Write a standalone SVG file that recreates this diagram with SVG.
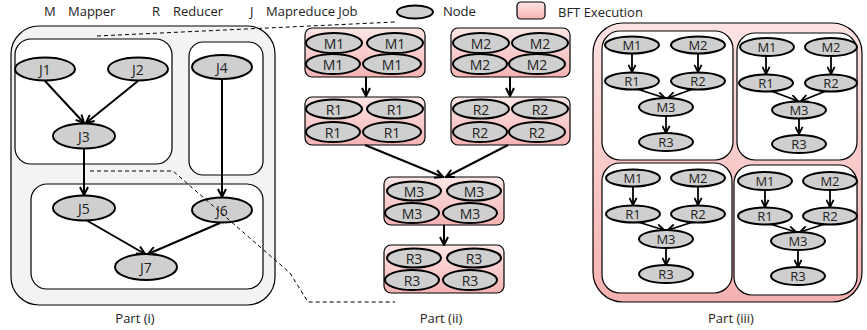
<svg xmlns="http://www.w3.org/2000/svg" width="867" height="330" viewBox="0 0 867 330">
<defs>
<linearGradient id="pink" x1="0" y1="0" x2="0" y2="1">
<stop offset="0" stop-color="#fde6e6"/>
<stop offset="1" stop-color="#f5b3b3"/>
</linearGradient>
<linearGradient id="pinkBig" x1="0" y1="0" x2="0" y2="1">
<stop offset="0" stop-color="#fde3e3"/>
<stop offset="1" stop-color="#f5b1b1"/>
</linearGradient>
<marker id="arr" viewBox="0 0 10 10" refX="9" refY="5" markerWidth="10" markerHeight="10" markerUnits="userSpaceOnUse" orient="auto">
<path d="M1,1 L9,5 L1,9" fill="none" stroke="#000" stroke-width="2"/>
</marker>
<marker id="arrs" viewBox="0 0 10 10" refX="9" refY="5" markerWidth="9" markerHeight="9" markerUnits="userSpaceOnUse" orient="auto">
<path d="M1,1 L9,5 L1,9" fill="none" stroke="#000" stroke-width="2"/>
</marker>
</defs>
<style>
text{font-family:"Open Sans","Liberation Sans",sans-serif;font-size:13px;fill:#222}
.lbl{text-anchor:middle;dominant-baseline:central}
.big{font-size:14px}
.node ellipse{fill:#cfcfcf;stroke:#000;stroke-width:2}
.box{fill:#fff;stroke:#000;stroke-width:1.2}
.bft{fill:url(#pink);stroke:#000;stroke-width:1.2}
.e{stroke:#000;stroke-width:2;fill:none;marker-end:url(#arr)}
.es{stroke:#000;stroke-width:1.8;fill:none;marker-end:url(#arrs)}
.dash{stroke:#000;stroke-width:1;fill:none;stroke-dasharray:4,3}
</style>

<g id="legend">
<text x="44" y="16">M</text><text x="68" y="16">Mapper</text>
<text x="152" y="16">R</text><text x="173" y="16">Reducer</text>
<text x="250" y="16">J</text><text x="266" y="16">Mapreduce Job</text>
<ellipse cx="415" cy="12" rx="18" ry="6.5" fill="#cfcfcf" stroke="#000" stroke-width="2"/>
<text x="443" y="16">Node</text>
<rect x="517" y="2" width="28" height="17" rx="4" class="bft"/>
<text x="558" y="17">BFT Execution</text>
</g>

<g id="part1">
<rect x="11" y="26" width="264" height="279" rx="28" fill="#f3f3f3" stroke="#000" stroke-width="1.2"/>
<rect x="15" y="39" width="157" height="125" rx="16" class="box"/>
<rect x="189" y="42" width="74" height="133" rx="14" class="box"/>
<rect x="31" y="184" width="232" height="105" rx="16" class="box"/>
<text x="135" y="318" class="lbl">Part (i)</text>
</g>

<g id="part2">
<g id="m1grp" class="node">
<rect x="305" y="28" width="120" height="49" rx="7" class="bft"/>
<ellipse cx="334" cy="43" rx="28" ry="10"/><text x="334" y="43" class="lbl big">M1</text>
<ellipse cx="395" cy="43" rx="28" ry="10"/><text x="395" y="43" class="lbl big">M1</text>
<ellipse cx="333" cy="64" rx="27" ry="10"/><text x="333" y="64" class="lbl big">M1</text>
<ellipse cx="392" cy="64" rx="29" ry="10"/><text x="392" y="64" class="lbl big">M1</text>
</g>
<g id="m2grp" class="node">
<rect x="451" y="28" width="119" height="49" rx="7" class="bft"/>
<ellipse cx="481" cy="43" rx="28" ry="10"/><text x="481" y="43" class="lbl big">M2</text>
<ellipse cx="540" cy="43" rx="28" ry="10"/><text x="540" y="43" class="lbl big">M2</text>
<ellipse cx="480" cy="64" rx="27" ry="10"/><text x="480" y="64" class="lbl big">M2</text>
<ellipse cx="537" cy="64" rx="28" ry="10"/><text x="537" y="64" class="lbl big">M2</text>
</g>
<g id="r1grp" class="node">
<rect x="305" y="97" width="120" height="48" rx="7" class="bft"/>
<ellipse cx="334" cy="109" rx="28" ry="9.5"/><text x="334" y="109" class="lbl big">R1</text>
<ellipse cx="395" cy="109" rx="28" ry="9.5"/><text x="395" y="109" class="lbl big">R1</text>
<ellipse cx="333" cy="132" rx="27" ry="10"/><text x="333" y="132" class="lbl big">R1</text>
<ellipse cx="392" cy="132" rx="29" ry="10"/><text x="392" y="132" class="lbl big">R1</text>
</g>
<g id="r2grp" class="node">
<rect x="451" y="97" width="119" height="48" rx="7" class="bft"/>
<ellipse cx="481" cy="109" rx="28" ry="9.5"/><text x="481" y="109" class="lbl big">R2</text>
<ellipse cx="540" cy="109" rx="28" ry="9.5"/><text x="540" y="109" class="lbl big">R2</text>
<ellipse cx="480" cy="132" rx="27" ry="10"/><text x="480" y="132" class="lbl big">R2</text>
<ellipse cx="537" cy="132" rx="28" ry="10"/><text x="537" y="132" class="lbl big">R2</text>
</g>
<g id="m3grp" class="node">
<rect x="384" y="177" width="120" height="48" rx="7" class="bft"/>
<ellipse cx="414" cy="191" rx="27" ry="9.5"/><text x="414" y="191" class="lbl big">M3</text>
<ellipse cx="474" cy="191" rx="27" ry="9.5"/><text x="474" y="191" class="lbl big">M3</text>
<ellipse cx="412" cy="213" rx="27" ry="10"/><text x="412" y="213" class="lbl big">M3</text>
<ellipse cx="470" cy="213" rx="27" ry="10"/><text x="470" y="213" class="lbl big">M3</text>
</g>
<g id="r3grp" class="node">
<rect x="384" y="245" width="120" height="48" rx="7" class="bft"/>
<ellipse cx="414" cy="258" rx="27" ry="9.5"/><text x="414" y="258" class="lbl big">R3</text>
<ellipse cx="474" cy="258" rx="27" ry="9.5"/><text x="474" y="258" class="lbl big">R3</text>
<ellipse cx="412" cy="280" rx="27" ry="10"/><text x="412" y="280" class="lbl big">R3</text>
<ellipse cx="470" cy="280" rx="27" ry="10"/><text x="470" y="280" class="lbl big">R3</text>
</g>
<text x="441" y="318" class="lbl">Part (ii)</text>
</g>

<g id="part1nodes">
<g id="J1" class="node"><ellipse cx="45" cy="69" rx="30" ry="11.5"/><text x="45" y="69" class="lbl big">J1</text></g>
<g id="J2" class="node"><ellipse cx="138" cy="69" rx="30" ry="11.5"/><text x="138" y="69" class="lbl big">J2</text></g>
<g id="J3" class="node"><ellipse cx="84" cy="136" rx="31" ry="12.5"/><text x="84" y="136" class="lbl big">J3</text></g>
<g id="J4" class="node"><ellipse cx="222" cy="67" rx="30" ry="12"/><text x="222" y="67" class="lbl big">J4</text></g>
<g id="J5" class="node"><ellipse cx="84" cy="208" rx="31" ry="12.5"/><text x="84" y="208" class="lbl big">J5</text></g>
<g id="J6" class="node"><ellipse cx="222" cy="210" rx="30" ry="12.5"/><text x="222" y="210" class="lbl big">J6</text></g>
<g id="J7" class="node"><ellipse cx="146" cy="267" rx="31" ry="13"/><text x="146" y="267" class="lbl big">J7</text></g>
</g>

<g id="connectors">
<line x1="45" y1="81" x2="84" y2="123" class="e"/>
<line x1="138" y1="81" x2="86" y2="123" class="e"/>
<line x1="84" y1="148" x2="84" y2="195" class="e"/>
<line x1="222" y1="79" x2="222" y2="197" class="e"/>
<line x1="86" y1="220" x2="145" y2="254" class="e"/>
<line x1="220" y1="223" x2="148" y2="254" class="e"/>
<line x1="366" y1="77" x2="366" y2="96" class="e"/>
<line x1="510" y1="77" x2="510" y2="96" class="e"/>
<line x1="365" y1="145" x2="443" y2="177" class="e"/>
<line x1="508" y1="145" x2="446" y2="177" class="e"/>
<line x1="444" y1="225" x2="444" y2="245" class="e"/>
<path d="M97,36 L395,22" class="dash"/>
<path d="M90,171 L173,171 L290,273 L308,302 L395,302" class="dash"/>
</g>

<g id="part3">
<rect x="593" y="23" width="269" height="279" rx="30" fill="url(#pinkBig)" stroke="#000" stroke-width="1.2"/>
<text x="731" y="318" class="lbl">Part (iii)</text>

<g id="p3tl">
<rect x="602" y="31" width="131" height="129" rx="18" class="box"/>
<line x1="632" y1="53" x2="632" y2="72" class="es"/>
<line x1="698" y1="53" x2="698" y2="72" class="es"/>
<line x1="637" y1="89" x2="665" y2="98" class="es"/>
<line x1="693" y1="89" x2="668" y2="98" class="es"/>
<line x1="666" y1="117" x2="666" y2="133" class="es"/>
<g class="node">
<ellipse cx="632" cy="45" rx="27" ry="8.5"/><text x="632" y="45" class="lbl">M1</text>
<ellipse cx="698" cy="45" rx="27" ry="8.5"/><text x="698" y="45" class="lbl">M2</text>
<ellipse cx="632" cy="81" rx="27" ry="8.5"/><text x="632" y="81" class="lbl">R1</text>
<ellipse cx="698" cy="81" rx="27" ry="8.5"/><text x="698" y="81" class="lbl">R2</text>
<ellipse cx="666" cy="107" rx="27" ry="9"/><text x="666" y="107" class="lbl">M3</text>
<ellipse cx="666" cy="142" rx="27" ry="9"/><text x="666" y="142" class="lbl">R3</text>
</g>
</g>

<g id="p3tr">
<rect x="737" y="33" width="120" height="127" rx="18" class="box"/>
<line x1="766" y1="56" x2="766" y2="74" class="es"/>
<line x1="831" y1="56" x2="831" y2="74" class="es"/>
<line x1="771" y1="91" x2="798" y2="101" class="es"/>
<line x1="826" y1="91" x2="801" y2="101" class="es"/>
<line x1="799" y1="119" x2="799" y2="134" class="es"/>
<g class="node">
<ellipse cx="767" cy="47" rx="27" ry="9"/><text x="767" y="47" class="lbl">M1</text>
<ellipse cx="831" cy="47" rx="26" ry="9"/><text x="831" y="47" class="lbl">M2</text>
<ellipse cx="766" cy="83" rx="27" ry="8.5"/><text x="766" y="83" class="lbl">R1</text>
<ellipse cx="831" cy="83" rx="26" ry="8.5"/><text x="831" y="83" class="lbl">R2</text>
<ellipse cx="799" cy="110" rx="27" ry="8.5"/><text x="799" y="110" class="lbl">M3</text>
<ellipse cx="799" cy="144" rx="27" ry="9"/><text x="799" y="144" class="lbl">R3</text>
</g>
</g>

<g id="p3bl">
<rect x="602" y="163" width="130" height="130" rx="18" class="box"/>
<line x1="633" y1="187" x2="633" y2="205" class="es"/>
<line x1="698" y1="187" x2="698" y2="205" class="es"/>
<line x1="638" y1="222" x2="664" y2="230" class="es"/>
<line x1="693" y1="222" x2="668" y2="230" class="es"/>
<line x1="666" y1="248" x2="666" y2="265" class="es"/>
<g class="node">
<ellipse cx="633" cy="178" rx="27" ry="8.5"/><text x="633" y="178" class="lbl">M1</text>
<ellipse cx="698" cy="178" rx="27" ry="8.5"/><text x="698" y="178" class="lbl">M2</text>
<ellipse cx="633" cy="214" rx="27" ry="8.5"/><text x="633" y="214" class="lbl">R1</text>
<ellipse cx="698" cy="214" rx="27" ry="8.5"/><text x="698" y="214" class="lbl">R2</text>
<ellipse cx="666" cy="239" rx="27" ry="9"/><text x="666" y="239" class="lbl">M3</text>
<ellipse cx="666" cy="274" rx="27" ry="9"/><text x="666" y="274" class="lbl">R3</text>
</g>
</g>

<g id="p3br">
<rect x="734" y="165" width="123" height="130" rx="18" class="box"/>
<line x1="765" y1="190" x2="765" y2="207" class="es"/>
<line x1="830" y1="190" x2="830" y2="207" class="es"/>
<line x1="770" y1="224" x2="796" y2="232" class="es"/>
<line x1="825" y1="224" x2="800" y2="232" class="es"/>
<line x1="798" y1="250" x2="798" y2="267" class="es"/>
<g class="node">
<ellipse cx="765" cy="181" rx="27" ry="9"/><text x="765" y="181" class="lbl">M1</text>
<ellipse cx="830" cy="181" rx="27" ry="9"/><text x="830" y="181" class="lbl">M2</text>
<ellipse cx="765" cy="216" rx="27" ry="8.5"/><text x="765" y="216" class="lbl">R1</text>
<ellipse cx="830" cy="216" rx="27" ry="8.5"/><text x="830" y="216" class="lbl">R2</text>
<ellipse cx="798" cy="241" rx="27" ry="9"/><text x="798" y="241" class="lbl">M3</text>
<ellipse cx="798" cy="276" rx="27" ry="9"/><text x="798" y="276" class="lbl">R3</text>
</g>
</g>
</g>
</svg>
